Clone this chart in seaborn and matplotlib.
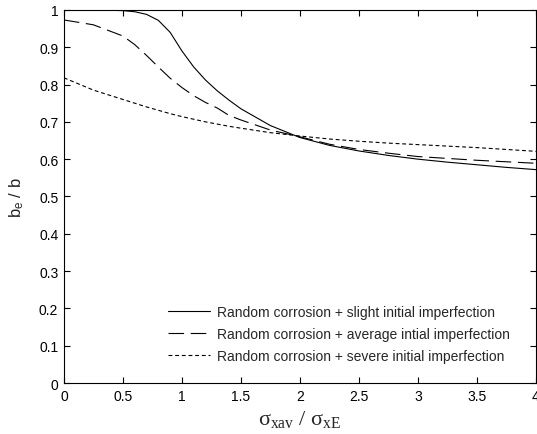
import matplotlib
matplotlib.use("Agg")
import matplotlib.pyplot as plt
import seaborn as sns
import pandas as pd

# stress ratio sigma_xav / sigma_xE
ratio = [0, 0.25, 0.5, 0.6, 0.7, 0.8, 0.9, 1.0, 1.1, 1.2, 1.3, 1.4, 1.5,
         1.75, 2.0, 2.25, 2.5, 2.75, 3.0, 3.25, 3.5, 3.75, 4.0]

# effective width ratio b_e / b for each imperfection level
slight = [1.0, 1.0, 0.998, 0.995, 0.988, 0.972, 0.94, 0.89, 0.847, 0.812, 0.783,
          0.758, 0.735, 0.69, 0.658, 0.637, 0.622, 0.610, 0.600, 0.592, 0.585,
          0.578, 0.572]
average = [0.973, 0.96, 0.93, 0.907, 0.878, 0.847, 0.817, 0.792, 0.770, 0.752,
           0.737, 0.717, 0.705, 0.678, 0.660, 0.640, 0.626, 0.616, 0.607, 0.602,
           0.597, 0.593, 0.589]
severe = [0.818, 0.785, 0.760, 0.750, 0.740, 0.731, 0.722, 0.714, 0.707, 0.700,
          0.694, 0.688, 0.683, 0.671, 0.662, 0.654, 0.648, 0.643, 0.639, 0.635,
          0.631, 0.626, 0.621]

labels = ["Random corrosion + slight initial imperfection",
          "Random corrosion + average intial imperfection",
          "Random corrosion + severe initial imperfection"]

xticks = [0, 0.5, 1, 1.5, 2, 2.5, 3, 3.5, 4]
xticklabels = ["0", "0.5", "1", "1.5", "2", "2.5", "3", "3.5", "4"]
yticks = [0, 0.1, 0.2, 0.3, 0.4, 0.5, 0.6, 0.7, 0.8, 0.9, 1.0]
yticklabels = ["0", "0.1", "0.2", "0.3", "0.4", "0.5", "0.6", "0.7", "0.8", "0.9", "1"]

frames = []
for lab, vals in zip(labels, [slight, average, severe]):
    frames.append(pd.DataFrame({"ratio": ratio, "be_b": vals, "case": lab}))
df = pd.concat(frames, ignore_index=True)

sns.set_style("white")
plt.rcParams["font.family"] = ["Liberation Sans", "DejaVu Sans"]
plt.rcParams["mathtext.fontset"] = "custom"
plt.rcParams["mathtext.rm"] = "Liberation Serif"
plt.rcParams["mathtext.it"] = "Liberation Serif:italic"
plt.rcParams["mathtext.sf"] = "Liberation Sans"

fig = plt.figure(figsize=(5.37, 4.35), dpi=100)
ax = fig.add_axes([0.119, 0.117, 0.879, 0.858])

dashes = {labels[0]: "", labels[1]: (14, 6), labels[2]: (3.5, 2.5)}
sns.lineplot(data=df, x="ratio", y="be_b", hue="case", style="case",
             palette=["black"] * 3, dashes=dashes, linewidth=0.8,
             ax=ax, legend=True)

ax.set_xlim(0, 4)
ax.set_ylim(0, 1)
ax.set_xticks(xticks)
ax.set_xticklabels(xticklabels)
ax.set_yticks(yticks)
ax.set_yticklabels(yticklabels)
ax.tick_params(direction="in", length=4, width=0.8, labelsize=10,
               top=True, right=True, bottom=True, left=True,
               colors="black", pad=4)
for sp in ax.spines.values():
    sp.set_visible(True)
    sp.set_color("black")
    sp.set_linewidth(0.8)

ax.set_xlabel("σ$_{\\mathrm{xav}}$ / σ$_{\\mathrm{xE}}$",
              fontsize=16, family="Liberation Serif", labelpad=4)
ax.set_ylabel(r"b$_\mathsf{e}$ / b", fontsize=12, labelpad=9)

handles, labs = ax.get_legend_handles_labels()
ax.legend(handles, labs, loc="upper left", bbox_to_anchor=(0.221, 0.209),
          frameon=False, fontsize=10, handlelength=3.0, handletextpad=0.5,
          labelspacing=0.58, borderpad=0, borderaxespad=0)

fig.savefig("out.png", dpi=100)
